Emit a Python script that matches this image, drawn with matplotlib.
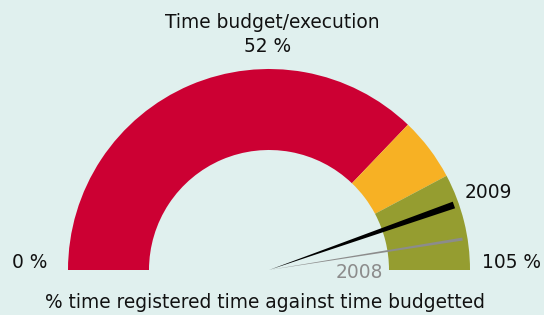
import numpy as np
import matplotlib.pyplot as plt
from matplotlib.patches import Wedge, Polygon

# ===== DATA =====
band_limits = [0, 78, 88.7, 105]          # red / orange / green bands
band_colors = ["#CC0033", "#F7B124", "#959D30"]
needle_years = ["2009", "2008"]
needle_values = [93.7, 99.7]
needle_colors = ["#000000", "#8C8C8C"]
needle_widths = [7.0, 3.0]
scale_max = 105
title = "Time budget/execution"
subtitle = "52 %"
xlabel = "% time registered time against time budgetted"

bg = "#E0F0EE"

fig = plt.figure(figsize=(5.44, 3.15), dpi=100)
fig.patch.set_facecolor(bg)
ax = fig.add_axes([0, 0, 1, 1])
ax.set_facecolor(bg)
ax.set_xlim(0, 544)
ax.set_ylim(0, 315)
ax.axis("off")

# pixel geometry (y up)
cx, cy = 269, 45
r_out, r_in = 201, 120


def angle_of(v):
    return 180 - v / scale_max * 180


for lo, hi, col in zip(band_limits[:-1], band_limits[1:], band_colors):
    ax.add_patch(Wedge((cx, cy), r_out, angle_of(hi), angle_of(lo),
                       width=r_out - r_in, facecolor=col, edgecolor="none"))

# needles: thin wedges from the centre, flat tip
for v, col, w in zip(needle_values, needle_colors, needle_widths):
    a = np.radians(angle_of(v))
    length = r_out - 5
    tx, ty = cx + length * np.cos(a), cy + length * np.sin(a)
    nx, ny = -np.sin(a) * w / 2, np.cos(a) * w / 2
    ax.add_patch(Polygon([(cx, cy), (tx + nx, ty + ny), (tx - nx, ty - ny)],
                         closed=True, facecolor=col, edgecolor="none"))

fs = 13.4
ax.text(272, 315 - 22, title, ha="center", va="center", fontsize=fs, color="#111111")
ax.text(268, 315 - 47, subtitle, ha="center", va="center", fontsize=fs, color="#111111")
ax.text(30, 315 - 262, "0 %", ha="center", va="center", fontsize=fs, color="#111111")
ax.text(511, 315 - 262, "105 %", ha="center", va="center", fontsize=fs, color="#111111")
ax.text(488, 315 - 193, needle_years[0], ha="center", va="center", fontsize=fs, color="#111111")
ax.text(359, 315 - 272, needle_years[1], ha="center", va="center", fontsize=fs, color="#8C8C8C")
ax.text(265, 315 - 302, xlabel, ha="center", va="center", fontsize=fs, color="#111111")

plt.savefig("out.png", dpi=100, facecolor=bg)
plt.close()
